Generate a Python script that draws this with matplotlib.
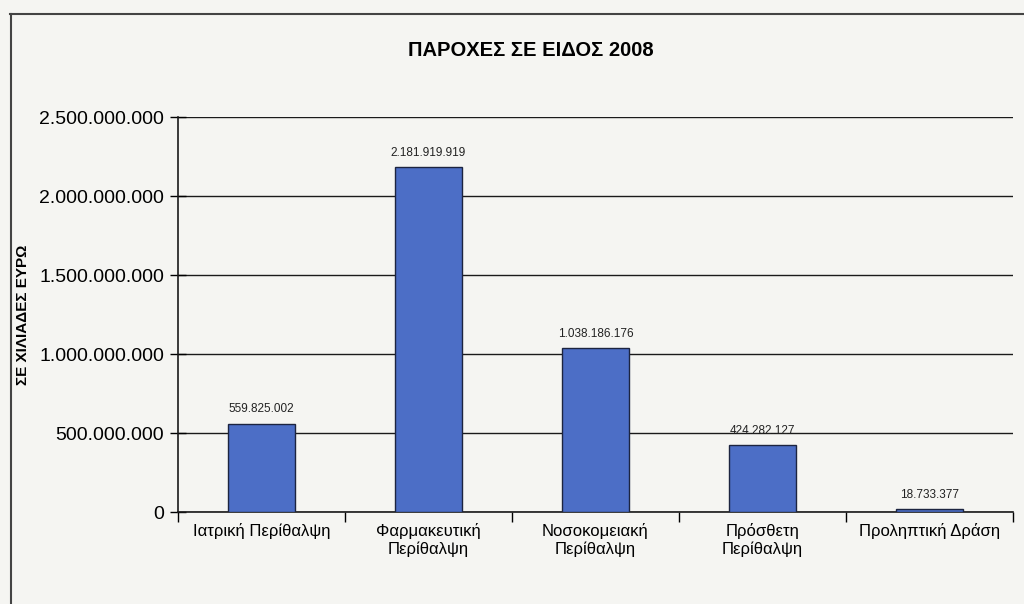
import matplotlib.pyplot as plt
from matplotlib.lines import Line2D
from matplotlib.ticker import FuncFormatter
import numpy as np

plt.rcParams['font.family'] = ['Liberation Sans', 'DejaVu Sans']

# Data
categories = ['Ιατρική Περίθαλψη', 'Φαρμακευτική\nΠερίθαλψη', 'Νοσοκομειακή\nΠερίθαλψη',
              'Πρόσθετη\nΠερίθαλψη', 'Προληπτική Δράση']
values = [559825002, 2181919919, 1038186176, 424282127, 18733377]
y_ticks = [0, 500000000, 1000000000, 1500000000, 2000000000, 2500000000]


def dots(v, pos=None):
    return f'{int(v):,}'.replace(',', '.')


bg = '#f5f5f2'
fig = plt.figure(figsize=(10.24, 6.04), dpi=100, facecolor=bg)
ax = fig.add_axes([0.174, 0.152, 0.815, 0.654], facecolor=bg)

x = np.arange(len(categories))
ax.bar(x, values, width=0.4, color='#4c6ec6', edgecolor='#1c2440', linewidth=1.0, zorder=3)

for xi, v in zip(x, values):
    ax.annotate(dots(v), (xi, v), xytext=(0, 6), textcoords='offset points',
                ha='center', va='bottom', fontsize=8.5, color='#222222')

ax.set_xlim(-0.5, len(categories) - 0.5)
ax.set_ylim(0, 2500000000)
ax.set_yticks(y_ticks)
ax.yaxis.set_major_formatter(FuncFormatter(dots))
ax.grid(axis='y', color='#1a1a1a', linewidth=1.0, zorder=0)
ax.tick_params(axis='y', direction='inout', length=12, width=1, labelsize=14, pad=4)

ax.set_xticks(x)
ax.set_xticklabels(categories, fontsize=12)
ax.tick_params(axis='x', which='major', length=0, pad=8)
ax.set_xticks(np.arange(-0.5, len(categories)), minor=True)
ax.tick_params(axis='x', which='minor', direction='out', length=7, width=1)

for s in ['top', 'right']:
    ax.spines[s].set_visible(False)
for s in ['left', 'bottom']:
    ax.spines[s].set_color('#1a1a1a')
    ax.spines[s].set_linewidth(1.2)

ax.set_ylabel('ΣΕ ΧΙΛΙΑΔΕΣ ΕΥΡΩ', fontsize=11, fontweight='bold')
ax.yaxis.set_label_coords(-0.177, 0.5)

fig.text(0.518, 0.917, 'ΠΑΡΟΧΕΣ ΣΕ ΕΙΔΟΣ 2008', ha='center', va='center',
         fontsize=14.5, fontweight='bold')

# outer frame of the scanned chart
fig.add_artist(Line2D([0.0107, 0.0107], [0.0, 0.977], color='#444444', lw=1.5))
fig.add_artist(Line2D([0.0098, 1.0], [0.977, 0.977], color='#444444', lw=1.5))

fig.savefig('out.png', dpi=100, facecolor=bg)
